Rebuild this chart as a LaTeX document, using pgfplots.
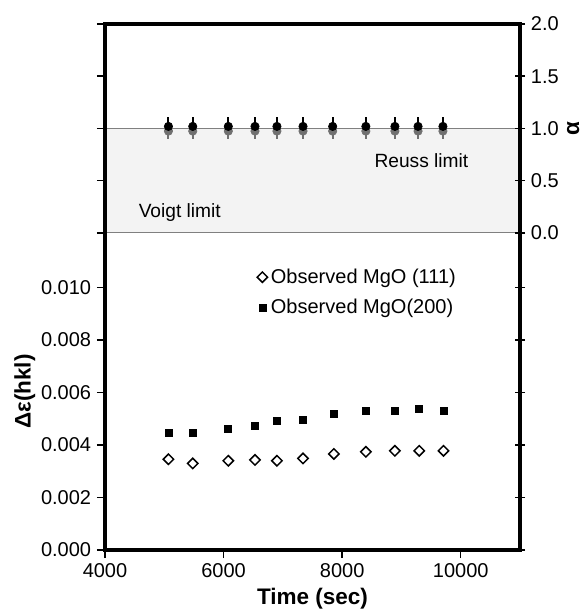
\documentclass[border=0pt]{standalone}
\usepackage{fontspec}
\setmainfont{Liberation Sans}
\usepackage{pgfplots}
\pgfplotsset{compat=1.18}

\definecolor{shade}{HTML}{F3F3F3}
\definecolor{limline}{HTML}{808080}
\definecolor{grmark}{HTML}{707070}
\newcommand{\fs}{\fontsize{12}{14.4}\selectfont}

\pgfplotsset{
  base/.style={scale only axis, width=249pt, xmin=4000, xmax=11000,
    axis line style={line width=1.9pt, line cap=rect},
    tick style={line width=0.9pt, black},
    major tick length=4.8pt,
    /pgf/number format/assume math mode=true,
    tick label style={font=\fs},
    clip=false},
  mklegend/.style={legend image code/.code={%
    \draw[mark repeat=2, mark phase=2, ##1] plot coordinates {(0cm,0cm) (0.1cm,0cm) (0.2cm,0cm)};}},
}

\begin{document}
\begin{tikzpicture}
\path[use as bounding box] (-63pt,-36pt) rectangle (286.2pt,330pt);

% lower panel: strain
\begin{axis}[base, at={(0,0)}, anchor=south west, height=190.2pt,
  ymin=0, ymax=0.01208,
  axis x line*=bottom, axis y line*=left, tick align=outside,
  xtick={4000,6000,8000,10000}, ytick={0,0.002,0.004,0.006,0.008,0.010},
  scaled y ticks=false, scaled x ticks=false,
  yticklabel style={/pgf/number format/.cd, fixed, fixed zerofill, precision=3},
  xticklabel style={/pgf/number format/.cd, fixed, 1000 sep={}},
  xlabel={Time (sec)}, ylabel={Δε(hkl)},
  label style={font=\fontsize{13.5}{16}\selectfont\bfseries},
  xlabel style={at={(axis description cs:0.5,-0.1546)}, anchor=center},
  ylabel style={at={(axis description cs:-0.193,0.5)}, anchor=center},
  legend style={at={(axis description cs:0.366,0.899)}, anchor=north west,
    draw=none, fill=none, font=\fs, row sep=4pt, inner xsep=0pt, inner ysep=0pt,
    nodes={inner xsep=2pt}},
  legend cell align=left]
\addplot[only marks, mark=square, mark size=2.2pt, mklegend,
  mark options={rotate=45, line width=0.9pt, fill=white, draw=black}]
  coordinates {(5070,0.00346) (5480,0.00330) (6080,0.00340) (6530,0.00343)
    (6900,0.00340) (7340,0.00349) (7860,0.00366) (8400,0.00374)
    (8890,0.00378) (9300,0.00378) (9710,0.00378)};
\addlegendentry{Observed MgO (111)}
\addplot[only marks, mark=square*, mark size=2.1pt, black, mklegend]
  coordinates {(5070,0.00448) (5480,0.00448) (6080,0.00461) (6530,0.00475)
    (6900,0.00491) (7340,0.00495) (7860,0.00518) (8400,0.00531)
    (8890,0.00531) (9300,0.00538) (9710,0.00531)};
\addlegendentry{Observed MgO(200)}
\end{axis}

\begin{axis}[base, at={(0,0)}, anchor=south west, height=190.2pt,
  ymin=0, ymax=0.01208, hide x axis, axis y line*=right,
  ytick={0,0.002,0.004,0.006,0.008,0.010}, yticklabels={},
  tick align=center, major tick length=6pt]
\end{axis}

% upper panel: alpha
\begin{axis}[base, at={(0,190.2pt)}, anchor=south west, height=125.4pt,
  ymin=0, ymax=2, axis on top,
  axis x line*=top, xtick=\empty, axis y line*=right,
  ytick={0,0.5,1,1.5,2}, tick align=center, major tick length=6pt,
  yticklabel style={/pgf/number format/.cd, fixed, fixed zerofill, precision=1},
  ylabel={α}, label style={font=\fontsize{13.5}{16}\selectfont\bfseries},
  ylabel style={at={(axis description cs:1.128,0.5)}, anchor=center}]
\addplot[fill=shade, draw=none] coordinates {(4000,0) (11000,0) (11000,1) (4000,1) (4000,0)};
\addplot[limline, line width=0.6pt] coordinates {(4000,1) (11000,1)};
\addplot[limline, line width=0.6pt] coordinates {(4000,0) (11000,0)};
\addplot[only marks, mark=*, mark size=2.5pt, grmark,
  error bars/.cd, y dir=minus, y explicit, error mark=none,
  error bar style={line width=1.2pt, grmark}]
  coordinates {(5070,0.975) -= (0,0.075) (5480,0.975) -= (0,0.075)
    (6080,0.975) -= (0,0.075) (6530,0.975) -= (0,0.075)
    (6900,0.975) -= (0,0.075) (7340,0.975) -= (0,0.075)
    (7840,0.975) -= (0,0.075) (8400,0.975) -= (0,0.075)
    (8890,0.975) -= (0,0.075) (9280,0.975) -= (0,0.075)
    (9700,0.975) -= (0,0.075)};
\addplot[only marks, mark=*, mark size=2.5pt, black,
  error bars/.cd, y dir=plus, y explicit, error mark=none,
  error bar style={line width=1.2pt, black}]
  coordinates {(5070,1.02) += (0,0.09) (5480,1.02) += (0,0.09)
    (6080,1.02) += (0,0.09) (6530,1.02) += (0,0.09)
    (6900,1.02) += (0,0.09) (7340,1.02) += (0,0.09)
    (7840,1.02) += (0,0.09) (8400,1.02) += (0,0.09)
    (8890,1.02) += (0,0.09) (9280,1.02) += (0,0.09)
    (9700,1.02) += (0,0.09)};
\node[anchor=west, font=\fontsize{11.5}{13.8}\selectfont] at (axis cs:4470,0.2) {Voigt limit};
\node[anchor=west, font=\fontsize{11.5}{13.8}\selectfont] at (axis cs:8448,0.69) {Reuss limit};
\end{axis}

\begin{axis}[base, at={(0,190.2pt)}, anchor=south west, height=125.4pt,
  ymin=0, ymax=2, hide x axis, axis y line*=left,
  ytick={0,0.5,1,1.5,2}, yticklabels={}, tick align=outside]
\end{axis}
\end{tikzpicture}
\end{document}
